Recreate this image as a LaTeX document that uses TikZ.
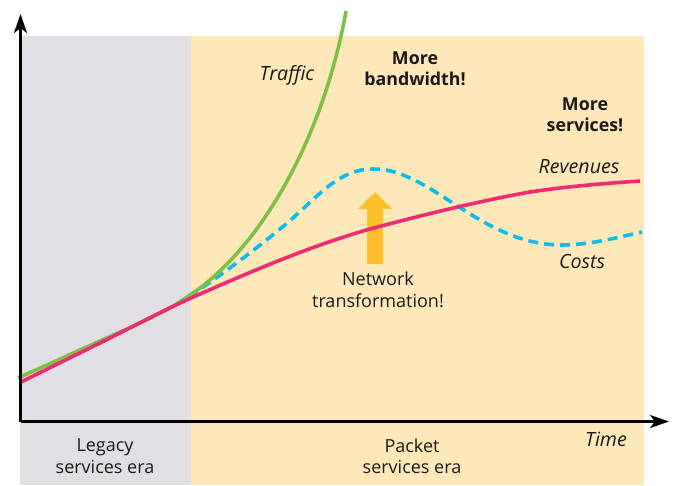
\documentclass[tikz,border=0pt]{standalone}
\usepackage{fontspec}
\setmainfont{Open Sans}
\usetikzlibrary{arrows.meta}
\definecolor{greyera}{HTML}{E1DFE3}
\definecolor{beige}{HTML}{FEE8BA}
\definecolor{traffic}{HTML}{7FC044}
\definecolor{revenue}{HTML}{EE2C74}
\definecolor{costs}{HTML}{0DBCEB}
\definecolor{arrowc}{HTML}{FDC02A}
\tikzset{
  lbl/.style={align=center,inner sep=0pt,font=\fontsize{18}{21.5}\selectfont,text=black!90},
  bold/.style={lbl,font=\fontsize{17.8}{21.5}\selectfont\bfseries},
  ital/.style={lbl,font=\fontsize{19.6}{22}\selectfont\itshape},
  curve/.style={line width=3.6pt,line cap=butt},
  axis/.style={line width=2.8pt,-{Stealth[length=19pt,width=13pt,inset=5pt]}}
}
\begin{document}
\begin{tikzpicture}[x=1pt,y=-1pt]
\useasboundingbox (0,0) rectangle (674,485);
\fill[greyera] (20,36) rectangle (191,485);
\fill[beige] (191,36) rectangle (644,485);
\coordinate (o) at (20.5,421.5);
\coordinate (ytip) at (20.5,14);
\coordinate (xtip) at (669,421.5);
% arrow
\fill[arrowc] (367,264) -- (367,209) -- (358,209) -- (375,192) -- (392,209) -- (383,209) -- (383,264) -- cycle;
% curves
\draw[curve,costs,dash pattern=on 10pt off 6pt] (175,305) .. controls (205,288) and (262,245) .. (293,218)
  .. controls (320,194) and (340,169) .. (373,169)
  .. controls (430,168) and (480,244) .. (560,245) .. controls (590,245) and (615,238) .. (642,232);
\draw[curve,traffic] (18,378) -- (100,341) .. controls (140,323) and (165,313) .. (190,295)
  .. controls (265,245) and (325,130) .. (346,11);
\draw[curve,revenue] (20,382.5) -- (100,343) .. controls (130,328) and (160,312) .. (191,298)
  .. controls (250,272) and (310,246) .. (370,229) .. controls (430,213) and (480,201) .. (530,192)
  .. controls (570,186) and (610,183) .. (640,181);
% axes
\draw[axis] (o) -- (ytip);
\draw[axis] (o) -- (xtip);
% labels
\node[ital] (t1) at (287,75) {Traffic};
\node[bold] (t2) at (415,69) {More\\bandwidth!};
\node[bold] (t3) at (585,115) {More\\services!};
\node[ital] (t4) at (579,167) {Revenues};
\node[ital] (t5) at (582,261) {Costs};
\node[lbl] (t6) at (378,290) {Network\\transformation!};
\node[ital] (t7) at (606,439) {Time};
\node[lbl] (t8) at (105,456) {Legacy\\services era};
\node[lbl] (t9) at (412,456) {Packet\\services era};
\end{tikzpicture}
\end{document}
